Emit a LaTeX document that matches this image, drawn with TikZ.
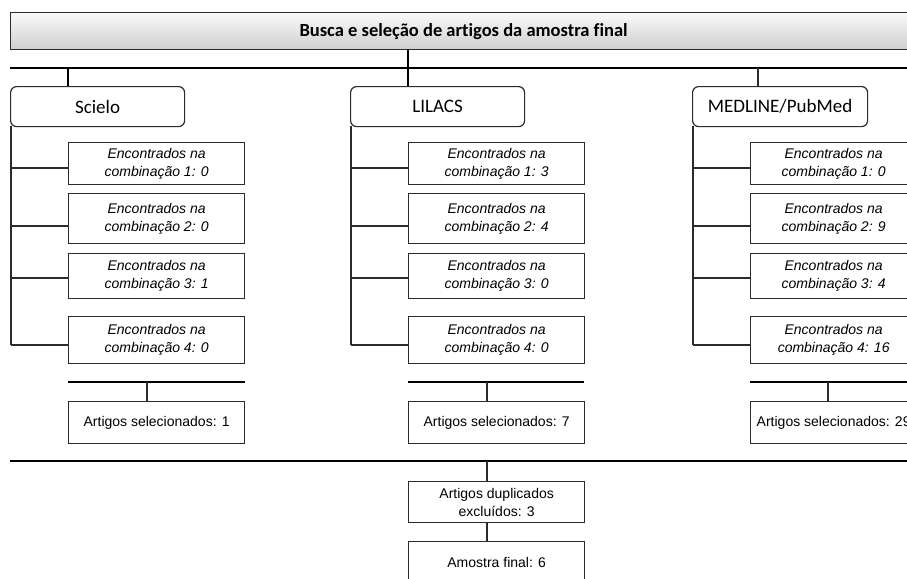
\documentclass[tikz,border=0pt]{standalone}
\usepackage{fontspec}
\setmainfont{Carlito}[Ligatures={NoCommon}]
\newfontfamily\arialf{Liberation Sans}
\usetikzlibrary{calc}
\definecolor{edge}{HTML}{2B2B2B}
\begin{document}
\begin{tikzpicture}[x=1pt,y=-1pt,
  titlebox/.style={draw=edge,line width=1.2pt,top color=gray!4,bottom color=gray!38,
     minimum width=906pt,minimum height=37pt,inner sep=0pt,anchor=north west,
     font=\fontsize{18.5}{22}\selectfont\bfseries},
  dbbox/.style={draw=edge,line width=1.2pt,fill=white,rounded corners=6pt,
     minimum height=40pt,inner sep=0pt,anchor=north west,
     font=\fontsize{19}{22}\selectfont},
  combo/.style={draw=edge,line width=1.3pt,fill=white,minimum width=176pt,inner sep=0pt,
     anchor=north west,align=center,font=\arialf\itshape\fontsize{14}{18}\selectfont},
  plain/.style={draw=edge,line width=1.3pt,fill=white,minimum width=176pt,inner sep=0pt,
     anchor=north west,align=center,font=\arialf\fontsize{14}{18}\selectfont},
  thick line/.style={line width=2.8pt,black},
  conn/.style={line width=1.3pt,edge},
]
\useasboundingbox (0,0) rectangle (907,578);
\clip (0,0) rectangle (907,578);
\fill[white] (0,0) rectangle (907,578);

% title and top bar
\node[titlebox] (title) at (10,12) {Busca e seleção de artigos da amostra final};
\coordinate (barL) at (10,68);
\coordinate (barR) at (930,68);
\draw[thick line] (barL) -- (barR);

% database boxes
\node[dbbox,minimum width=174pt] (scielo) at (10,86) {Scielo};
\node[dbbox,minimum width=174pt] (lilacs) at (350,86) {LILACS};
\node[dbbox,minimum width=175pt] (medline) at (692,86) {MEDLINE/PubMed};

\draw[thick line,line width=2.2pt] (408,49) -- (lilacs.north -| 408,0);
\draw[thick line,line width=2.2pt] (68,68) -- (scielo.north -| 68,0);
\draw[conn] (758,68) -- (medline.north -| 758,0);

% combination boxes: Scielo
\node[combo,minimum height=42pt] (s1) at (68,142) {Encontrados na\\combinação 1: 0};
\node[combo,minimum height=50pt] (s2) at (68,193) {Encontrados na\\combinação 2: 0};
\node[combo,minimum height=45pt] (s3) at (68,253) {Encontrados na\\combinação 3: 1};
\node[combo,minimum height=47pt] (s4) at (68,316) {Encontrados na\\combinação 4: 0};
% LILACS
\node[combo,minimum height=42pt] (l1) at (408,142) {Encontrados na\\combinação 1: 3};
\node[combo,minimum height=50pt] (l2) at (408,193) {Encontrados na\\combinação 2: 4};
\node[combo,minimum height=45pt] (l3) at (408,253) {Encontrados na\\combinação 3: 0};
\node[combo,minimum height=47pt] (l4) at (408,316) {Encontrados na\\combinação 4: 0};
% MEDLINE
\node[combo,minimum width=166pt,minimum height=42pt] (m1) at (750,142) {Encontrados na\\combinação 1: 0};
\node[combo,minimum width=166pt,minimum height=50pt] (m2) at (750,193) {Encontrados na\\combinação 2: 9};
\node[combo,minimum width=166pt,minimum height=45pt] (m3) at (750,253) {Encontrados na\\combinação 3: 4};
\node[combo,minimum width=166pt,minimum height=47pt] (m4) at (750,316) {Encontrados na\\combinação 4: 16};

% branch lines
\foreach \db/\bx/\p in {scielo/11/s,lilacs/351/l,medline/693/m}{
  \coordinate (\p top) at (\bx,126);
  \coordinate (\p bot) at (\bx,345);
  \draw[conn] (\p top) -- (\p bot);
  \draw[conn] (\bx,168) -- (\p1.west |- 0,168);
  \draw[conn] (\bx,226) -- (\p2.west |- 0,226);
  \draw[conn] (\bx,278) -- (\p3.west |- 0,278);
  \draw[conn] (\p bot) -- (\p4.west |- \p bot);
}

% selected boxes
\node[plain,minimum height=42pt] (ssel) at (68,401) {Artigos selecionados: 1};
\node[plain,minimum height=42pt] (lsel) at (408,401) {Artigos selecionados: 7};
\node[plain,minimum width=166pt,minimum height=42pt] (msel) at (750,401) {Artigos selecionados: 29};

\coordinate (sbarL) at (68,382);  \coordinate (sbarR) at (245,382);
\coordinate (lbarL) at (408,382); \coordinate (lbarR) at (584,382);
\coordinate (mbarL) at (750,382); \coordinate (mbarR) at (930,382);
\draw[thick line] (sbarL) -- (sbarR);
\draw[thick line] (lbarL) -- (lbarR);
\draw[thick line] (mbarL) -- (mbarR);
\draw[conn] (147,382) -- (ssel.north -| 147,0);
\draw[conn] (487,382) -- (lsel.north -| 487,0);
\draw[conn] (828,382) -- (msel.north -| 828,0);

% bottom bar
\coordinate (bbarL) at (10,461);
\coordinate (bbarR) at (930,461);
\draw[thick line] (bbarL) -- (bbarR);

\node[plain,minimum height=41pt] (dup) at (408,481) {Artigos duplicados\\excluídos: 3};
\node[plain,minimum height=42pt] (final) at (408,541) {Amostra final: 6};
\draw[conn] (487,461) -- (dup.north -| 487,0);
\draw[conn] (dup.south -| 487,0) -- (final.north -| 487,0);
\end{tikzpicture}
\end{document}
